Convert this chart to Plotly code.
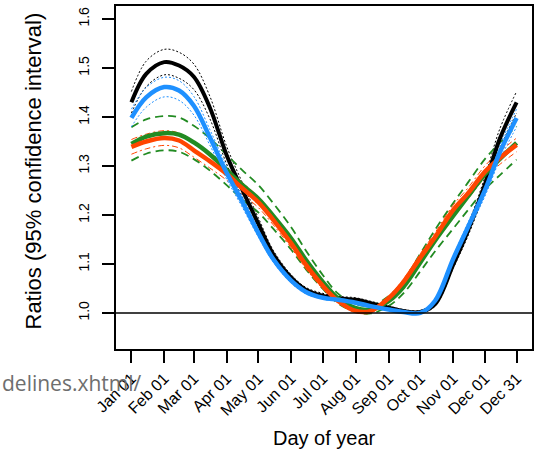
import plotly.graph_objects as go

days = [1, 15, 32, 46, 60, 75, 91, 105, 121, 135, 152, 166, 182, 196, 213, 227, 244, 258, 274, 288, 305, 319, 335, 349, 365]

black_mid = [1.430, 1.488, 1.512, 1.505, 1.482, 1.420, 1.322, 1.255, 1.182, 1.120, 1.072, 1.047, 1.035, 1.030, 1.027, 1.020, 1.011, 1.004, 1.002, 1.018, 1.098, 1.168, 1.262, 1.355, 1.430]
black_hi = [1.452, 1.514, 1.538, 1.532, 1.508, 1.443, 1.340, 1.270, 1.194, 1.128, 1.078, 1.052, 1.040, 1.034, 1.031, 1.024, 1.014, 1.007, 1.005, 1.022, 1.105, 1.179, 1.277, 1.375, 1.452]
black_lo = [1.408, 1.462, 1.486, 1.479, 1.456, 1.397, 1.304, 1.240, 1.170, 1.112, 1.066, 1.042, 1.030, 1.026, 1.023, 1.016, 1.008, 1.001, 0.999, 1.014, 1.091, 1.157, 1.247, 1.335, 1.408]

blue_mid = [1.398, 1.440, 1.461, 1.454, 1.423, 1.359, 1.286, 1.230, 1.163, 1.110, 1.066, 1.043, 1.031, 1.027, 1.021, 1.014, 1.007, 1.002, 1.000, 1.025, 1.110, 1.175, 1.250, 1.327, 1.398]
blue_hi = [1.416, 1.460, 1.481, 1.474, 1.442, 1.375, 1.299, 1.241, 1.172, 1.116, 1.071, 1.047, 1.034, 1.030, 1.024, 1.017, 1.009, 1.004, 1.002, 1.028, 1.116, 1.184, 1.262, 1.342, 1.416]
blue_lo = [1.380, 1.420, 1.441, 1.434, 1.404, 1.343, 1.273, 1.219, 1.155, 1.104, 1.061, 1.039, 1.028, 1.024, 1.018, 1.011, 1.005, 1.000, 0.998, 1.022, 1.104, 1.166, 1.238, 1.312, 1.380]

green_mid = [1.345, 1.360, 1.367, 1.364, 1.348, 1.324, 1.292, 1.263, 1.233, 1.198, 1.152, 1.108, 1.063, 1.030, 1.010, 1.007, 1.024, 1.053, 1.103, 1.148, 1.198, 1.238, 1.283, 1.314, 1.347]
green_hi = [1.379, 1.395, 1.402, 1.399, 1.382, 1.357, 1.323, 1.293, 1.261, 1.224, 1.175, 1.127, 1.077, 1.040, 1.018, 1.015, 1.034, 1.066, 1.121, 1.170, 1.224, 1.266, 1.314, 1.347, 1.381]
green_lo = [1.311, 1.325, 1.332, 1.329, 1.314, 1.291, 1.261, 1.233, 1.205, 1.172, 1.129, 1.089, 1.049, 1.020, 1.002, 0.999, 1.014, 1.040, 1.085, 1.126, 1.172, 1.210, 1.252, 1.281, 1.313]

orange_mid = [1.339, 1.350, 1.357, 1.352, 1.332, 1.310, 1.284, 1.256, 1.226, 1.190, 1.142, 1.098, 1.055, 1.025, 1.004, 1.004, 1.030, 1.063, 1.113, 1.155, 1.210, 1.244, 1.288, 1.316, 1.343]
orange_hi = [1.354, 1.365, 1.372, 1.367, 1.346, 1.324, 1.297, 1.268, 1.237, 1.200, 1.151, 1.106, 1.061, 1.029, 1.007, 1.007, 1.034, 1.069, 1.121, 1.164, 1.220, 1.255, 1.300, 1.329, 1.357]
orange_lo = [1.324, 1.335, 1.342, 1.337, 1.318, 1.296, 1.271, 1.244, 1.215, 1.180, 1.133, 1.090, 1.049, 1.021, 1.001, 1.001, 1.026, 1.057, 1.105, 1.146, 1.200, 1.233, 1.276, 1.303, 1.329]

tick_days = [1, 32, 60, 91, 121, 152, 182, 213, 244, 274, 305, 335, 365]
tick_labels = ["Jan 01", "Feb 01", "Mar 01", "Apr 01", "May 01", "Jun 01", "Jul 01",
               "Aug 01", "Sep 01", "Oct 01", "Nov 01", "Dec 01", "Dec 31"]
y_ticks = [1.0, 1.1, 1.2, 1.3, 1.4, 1.5, 1.6]
y_labels = ["1.0", "1.1", "1.2", "1.3", "1.4", "1.5", "1.6"]

BLACK, BLUE, GREEN, ORANGE = "#000000", "#1E90FF", "#228B22", "#FF4500"
FONT = "Liberation Sans, Arial, sans-serif"

fig = go.Figure()

def add(y, color, width, dash):
    fig.add_trace(go.Scatter(x=days, y=y, mode="lines",
                             line=dict(color=color, width=width, dash=dash,
                                       shape="spline", smoothing=1.0),
                             hoverinfo="skip", showlegend=False))

# confidence-interval lines
add(black_hi, BLACK, 1, "2px,2px")
add(black_lo, BLACK, 1, "2px,2px")
add(green_hi, GREEN, 1.8, "8px,5px")
add(green_lo, GREEN, 1.8, "8px,5px")
add(orange_hi, ORANGE, 1, "6px,3px,2px,3px")
add(orange_lo, ORANGE, 1, "6px,3px,2px,3px")
add(blue_hi, BLUE, 1, "2px,2px")
add(blue_lo, BLUE, 1, "2px,2px")
# main estimate lines
add(black_mid, BLACK, 4, "solid")
add(green_mid, GREEN, 4.5, "solid")
add(orange_mid, ORANGE, 4.5, "solid")
add(blue_mid, BLUE, 4.5, "solid")

fig.add_shape(type="line", xref="paper", x0=0, x1=1, yref="y", y0=1.0, y1=1.0,
              line=dict(color="black", width=1.5))

fig.update_layout(
    width=536, height=453,
    margin=dict(l=116, r=2, t=6, b=104),
    paper_bgcolor="white", plot_bgcolor="white",
    font=dict(family=FONT, color="black"),
    showlegend=False,
    xaxis=dict(range=[-13.56, 379.56], tickvals=tick_days, ticktext=tick_labels,
               tickangle=-45, ticks="outside", ticklen=12, tickwidth=1.5,
               tickcolor="black", showline=True, linecolor="black", linewidth=1.5,
               mirror=True, showgrid=False, zeroline=False,
               tickfont=dict(size=16, family=FONT)),
    yaxis=dict(range=[0.9265, 1.6265], tickvals=y_ticks, ticktext=y_labels,
               tickangle=-90, ticks="outside", ticklen=12, tickwidth=1.5,
               tickcolor="black", showline=True, linecolor="black", linewidth=1.5,
               mirror=True, showgrid=False, zeroline=False, ticklabelstandoff=8,
               tickfont=dict(size=14, family=FONT)),
    annotations=[
        dict(text="Day of year", xref="paper", yref="paper", x=0.5, y=0,
             yshift=-89, xanchor="center", yanchor="middle", showarrow=False,
             font=dict(size=20, family=FONT)),
        dict(text="Ratios (95% confidence interval)", xref="paper", yref="paper",
             x=0, y=0.5, xshift=-83, yshift=6, xanchor="center", yanchor="middle",
             textangle=-90, showarrow=False,
             font=dict(size=22, family=FONT)),
        dict(text="delines.xhtml/", xref="paper", yref="paper", x=0, y=0,
             xshift=-116, yshift=-34, xanchor="left", yanchor="middle",
             showarrow=False,
             font=dict(size=21, family="Open Sans, sans-serif", color="#6e6e6e")),
    ],
)

fig.write_html("out.html")
